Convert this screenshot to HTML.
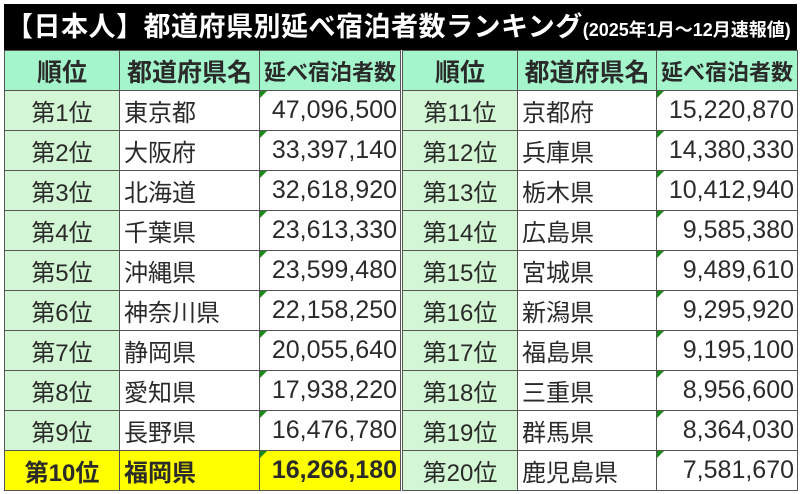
<!DOCTYPE html>
<html><head><meta charset="utf-8"><style>
html,body{margin:0;padding:0;background:#fff;width:800px;height:494px;overflow:hidden}
body{font-family:"Liberation Sans","Noto Sans CJK JP",sans-serif;color:#2a2a2a}
.wrap{position:absolute;left:4px;top:4px;width:793px}
.title{height:46px;background:#000;color:#fff;font-size:27px;font-weight:bold;line-height:46px;white-space:nowrap;padding-left:2px;letter-spacing:0.5px}
.title small{font-size:18px;letter-spacing:0}
table{border-collapse:collapse;table-layout:fixed;width:793px}
td{border:1.5px solid #555;height:39px;padding:0;font-size:24px;white-space:nowrap;overflow:hidden;position:relative}
tr.h td{background:#a4f5cb;font-weight:bold;text-align:center;font-size:25px}
tr.h td.n{font-size:22px}
td.r{background:#d3f6d4;text-align:center}
td.p{background:#fff;padding-left:4px;text-align:left}
td.v{background:#fff;text-align:right;padding-right:3px;font-size:25px}
td.v::before{content:"";position:absolute;left:0;top:0;border-top:7px solid #1a8a1a;border-right:7px solid transparent}
tr.y td{background:#ffff00;font-weight:bold}
tr.y td.r2{background:#d3f6d4;font-weight:normal}
tr.y td.p2{background:#fff;font-weight:normal}
tr.y td.v2{background:#fff;font-weight:normal}
td.sep{border-left:3px double #555}
</style></head><body>
<div class="wrap">
<div class="title">【日本人】都道府県別延べ宿泊者数ランキング<small>(2025年1月～12月速報値)</small></div>
<table>
<colgroup><col style="width:115px"><col style="width:140px"><col style="width:142px"><col style="width:116px"><col style="width:139px"><col style="width:141px"></colgroup>
<tr class="h"><td>順位</td><td>都道府県名</td><td class="n">延べ宿泊者数</td><td class="sep">順位</td><td>都道府県名</td><td class="n">延べ宿泊者数</td></tr>
<tr><td class="r">第1位</td><td class="p">東京都</td><td class="v">47,096,500</td><td class="r sep">第11位</td><td class="p">京都府</td><td class="v">15,220,870</td></tr>
<tr><td class="r">第2位</td><td class="p">大阪府</td><td class="v">33,397,140</td><td class="r sep">第12位</td><td class="p">兵庫県</td><td class="v">14,380,330</td></tr>
<tr><td class="r">第3位</td><td class="p">北海道</td><td class="v">32,618,920</td><td class="r sep">第13位</td><td class="p">栃木県</td><td class="v">10,412,940</td></tr>
<tr><td class="r">第4位</td><td class="p">千葉県</td><td class="v">23,613,330</td><td class="r sep">第14位</td><td class="p">広島県</td><td class="v">9,585,380</td></tr>
<tr><td class="r">第5位</td><td class="p">沖縄県</td><td class="v">23,599,480</td><td class="r sep">第15位</td><td class="p">宮城県</td><td class="v">9,489,610</td></tr>
<tr><td class="r">第6位</td><td class="p">神奈川県</td><td class="v">22,158,250</td><td class="r sep">第16位</td><td class="p">新潟県</td><td class="v">9,295,920</td></tr>
<tr><td class="r">第7位</td><td class="p">静岡県</td><td class="v">20,055,640</td><td class="r sep">第17位</td><td class="p">福島県</td><td class="v">9,195,100</td></tr>
<tr><td class="r">第8位</td><td class="p">愛知県</td><td class="v">17,938,220</td><td class="r sep">第18位</td><td class="p">三重県</td><td class="v">8,956,600</td></tr>
<tr><td class="r">第9位</td><td class="p">長野県</td><td class="v">16,476,780</td><td class="r sep">第19位</td><td class="p">群馬県</td><td class="v">8,364,030</td></tr>
<tr class="y"><td class="r">第10位</td><td class="p">福岡県</td><td class="v">16,266,180</td><td class="r r2 sep">第20位</td><td class="p p2">鹿児島県</td><td class="v v2">7,581,670</td></tr>
</table>
</div>
</body></html>
